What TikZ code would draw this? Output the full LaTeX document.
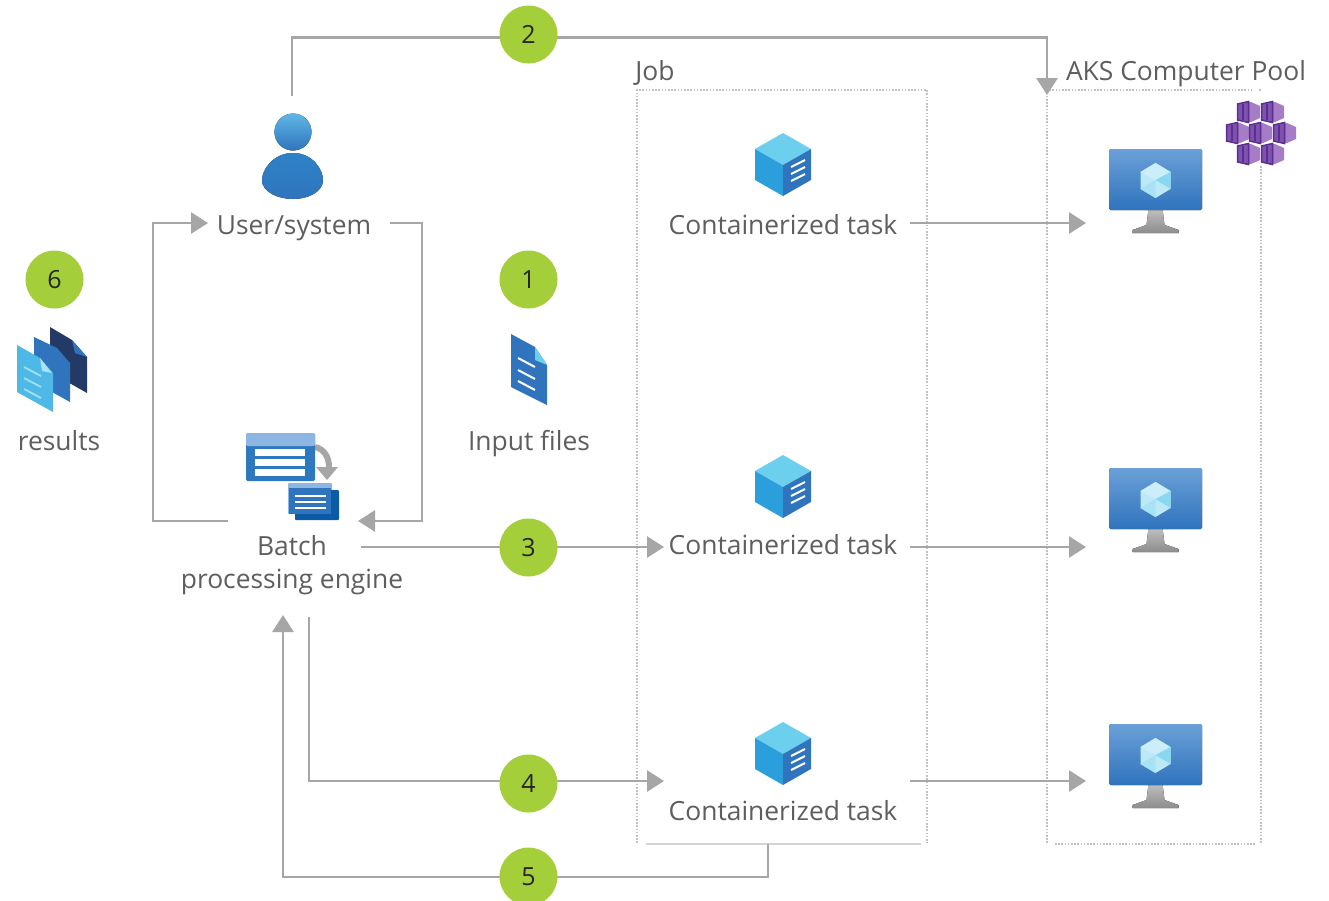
\documentclass[tikz,border=0pt]{standalone}
\usepackage{fontspec}
\setmainfont{Open Sans}
\usetikzlibrary{arrows.meta,calc}
\definecolor{conn}{HTML}{A6A6A6}
\definecolor{txt}{HTML}{5E5E5E}
\definecolor{badgegreen}{HTML}{A4CF3A}
\definecolor{dotc}{HTML}{C2C2C2}
\definecolor{azlight}{HTML}{6CCFEE}
\definecolor{azmid}{HTML}{2A9FDC}
\definecolor{azblue}{HTML}{2F74BD}
\definecolor{aztop}{HTML}{6BA0D8}
\definecolor{azdark}{HTML}{0B5AA5}
\definecolor{azhead}{HTML}{8DB6E3}
\definecolor{navy}{HTML}{243A66}
\definecolor{pdark}{HTML}{5B2F91}
\definecolor{pmid}{HTML}{7E52AD}
\definecolor{plight}{HTML}{A67CC6}
\tikzset{
  x=1pt,y=-1pt,
  flow/.style={draw=conn,line width=2.8pt,line join=miter},
  flowa/.style={flow,-{Triangle[length=17pt,width=21pt,fill=conn]}},
  dotbox/.style={draw=dotc,line width=2.4pt,dash pattern=on 1.6pt off 1.6pt},
  label/.style={text=txt,font=\fontsize{26.4}{33}\selectfont,inner sep=0pt,align=center},
  badge/.style={circle,fill=badgegreen,minimum size=58pt,inner sep=0pt,text=black!85,font=\fontsize{25}{30}\selectfont},
  anchorbox/.style={inner sep=0pt,outer sep=0pt},
  cubeicon/.pic={
    \fill[azlight] (0,-31)--(28,-15)--(0,1)--(-28,-15)--cycle;
    \fill[azmid] (-28,-15)--(0,1)--(0,32)--(-28,16)--cycle;
    \fill[azblue] (28,-15)--(0,1)--(0,32)--(28,16)--cycle;
    \foreach \d in {0,7,14}{\draw[white,line width=2pt] (8,{3+\d})--(22,{-4+\d});}
  },
  vmicon/.pic={
    \fill[top color=black!25,bottom color=black!45] (-7,30)--(7,30)--(9,46)--(23,51)--(23,54)--(-23,54)--(-23,51)--(-9,46)--cycle;
    \fill[rounded corners=1.5pt,top color=aztop,bottom color=azblue] (-46.5,-30)rectangle(46.5,31);
    \fill[white!55!azlight] (0,-16)--(15,-7)--(15,10)--(0,19)--(-15,10)--(-15,-7)--cycle;
    \fill[white!65!azlight] (0,-16)--(15,-7)--(0,1)--(-15,-7)--cycle;
    \fill[azlight!80!white] (0,1)--(15,-7)--(15,10)--cycle;
    \fill[white!40!azlight] (0,1)--(-15,10)--(0,19)--cycle;
  },
  khex/.pic={
    \fill[plight] (-11,-8)--(3,-10)--(12,-6)--(12,6)--(3,10)--(-11,8)--cycle;
    \fill[pmid] (-11,-8)--(1,-11)--(1,11)--(-11,8)--cycle;
    \draw[pdark,line width=1.5pt] (-10.5,-8)--(0.5,-10.5)--(0.5,10.5)--(-10.5,8)--cycle;
    \draw[pdark,line width=1.2pt] (-5,-8)--(-5,8);
  },
}
\begin{document}
\begin{tikzpicture}
\clip (0,0) rectangle (1329,900);
\fill[white] (0,0) rectangle (1329,900);

% dotted frames
\draw[dotbox] (637,843)--(637,90)--(927,90)--(927,843);
\draw[dotc!70!white,line width=2.8pt] (646,844)--(921,844);
\draw[dotbox] (1047,843)--(1047,90)--(1252,90);
\draw[dotbox] (1259,90)--(1261,90);
\draw[dotbox] (1261,166)--(1261,843);
\draw[dotbox,line width=2.8pt] (1055,844)--(1256,844);

% text nodes
\node[label] (jobl) at (655,73) {Job};
\node[label] (aksl) at (1186,74) {AKS Computer Pool};
\node[label] (userl) at (294,228) {User/system};
\node[label] (inputl) at (529,444) {Input files};
\node[label] (resl) at (59,441) {results};
\node[label] (engl) at (292,565) {Batch\\[0pt]processing engine};
\node[label] (task1) at (783,225) {Containerized task};
\node[label] (task2) at (783,545) {Containerized task};
\node[label] (task3) at (783,811) {Containerized task};

% connection points
\node[anchorbox,minimum width=138pt,minimum height=2pt] (vm1) at (1155,223) {};
\node[anchorbox,minimum width=138pt,minimum height=2pt] (vm2) at (1155,547) {};
\node[anchorbox,minimum width=138pt,minimum height=2pt] (vm3) at (1155,781) {};
\coordinate (userTop) at (292,96);
\coordinate (aksTop) at (1047,95);
\coordinate (userIn) at (208,223);
\coordinate (userOut) at (390,223);
\coordinate (engOutL) at (228,521);
\coordinate (engInR) at (358,521);
\coordinate (engOut3) at (361,547);
\coordinate (t2in) at (664,547);
\coordinate (engOut4) at (309,617);
\coordinate (t3in) at (664,781);
\coordinate (jobBottom) at (768,844);
\coordinate (engIn5) at (283,615);
\coordinate (t1out) at (910,223);
\coordinate (t2out) at (910,547);
\coordinate (t3out) at (910,781);

% connectors
\draw[flowa] (userTop)--(292,37.5)--(1047,37.5)--(aksTop);
\draw[flowa] (engOutL)--(153,521)--(153,223)--(userIn);
\draw[flowa] (userOut)--(422,223)--(422,521)--(engInR);
\draw[flowa] (engOut3)--(t2in);
\draw[flowa] (engOut4)--(309,781)--(t3in);
\draw[flowa] (jobBottom)--(768,877)--(283,877)--(engIn5);
\draw[flowa] (t1out)--(vm1.west);
\draw[flowa] (t2out)--(vm2.west);
\draw[flowa] (t3out)--(vm3.west);

% badges
\node[badge] (b2) at (528.5,34.5) {2};
\node[badge] (b1) at (528.5,279.5) {1};
\node[badge] (b3) at (528.5,547.5) {3};
\node[badge] (b4) at (528.5,783.5) {4};
\node[badge] (b5) at (528.5,876.5) {5};
\node[badge] (b6) at (54.5,279.5) {6};

% container icons
\pic at (783,164) {cubeicon};
\pic at (783,486) {cubeicon};
\pic at (783,753) {cubeicon};

% VM icons
\pic at (1155.5,179) {vmicon};
\pic at (1155.5,498) {vmicon};
\pic at (1155.5,754) {vmicon};

% Kubernetes icon
\foreach \px/\py in {1248/112,1272/112,1237/133,1260/133,1284/133,1248/154,1272/154}{
  \pic at (\px,\py) {khex};
}

% person icon
\fill[top color=azmid!75!white,bottom color=azblue] (293,132) circle (18.5);
\fill[top color=azblue!65!azmid,bottom color=azblue] (293,153) .. controls (313,153) and (323,170) .. (323,180) .. controls (323,192) and (308,199) .. (293,199) .. controls (278,199) and (262,192) .. (262,180) .. controls (262,170) and (273,153) .. (293,153) -- cycle;

% input file
\fill[azblue] (511,334)--(535,347)--(547,365)--(547,405)--(511,387)--cycle;
\fill[azlight] (535,347)--(547,365)--(535,360)--cycle;
\foreach \d in {0,12,23}{\draw[white,line width=2pt] (518,{358+\d})--(535,{367+\d});}

% results icon
\fill[navy] (50,327)--(72,340)--(87,357)--(87,393)--(50,372)--cycle;
\fill[azblue] (72,340)--(87,357)--(75,353)--cycle;
\fill[azblue] (34,337)--(57,348)--(70,363)--(70,402)--(34,382)--cycle;
\fill[azlight!55!azmid] (17,345)--(40,358)--(53,373)--(53,412)--(17,392)--cycle;
\fill[white!40!azlight] (40,358)--(52,373)--(42,371)--cycle;
\foreach \d in {0,11,22}{\draw[white!35!azlight,line width=1.8pt] (24,{367+\d})--(41,{376+\d});}

% batch icon
\draw[conn,line width=6pt] (315,447) .. controls (324,449) and (329,457) .. (329,467);
\fill[conn] (316,467)--(338,467)--(327,480)--cycle;
\fill[rounded corners=1.5pt,azblue!90!azmid] (246,433) rectangle (315,481);
\fill[rounded corners=1.5pt,azhead] (246,433) rectangle (315,446);
\fill[white] (255,449) rectangle (305,456);
\fill[white] (255,459) rectangle (305,466);
\fill[white] (255,469) rectangle (305,476);
\fill[rounded corners=1pt,azhead] (288,483) rectangle (332,514);
\fill[rounded corners=1pt,azdark] (295,490) rectangle (339,520);
\fill[azblue] (289,488) rectangle (331,514);
\foreach \yy in {496,502,508}{\draw[white,line width=2pt] (295,\yy)--(326,\yy);}
\end{tikzpicture}
\end{document}
